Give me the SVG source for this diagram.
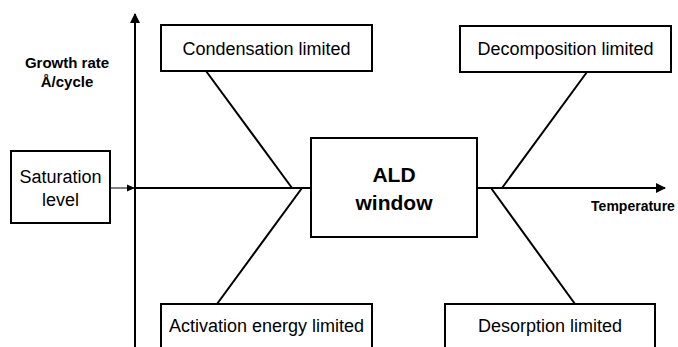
<svg xmlns="http://www.w3.org/2000/svg" width="678" height="347" viewBox="0 0 678 347">
<style>
.box{fill:#fff;stroke:#000;stroke-width:2}
.t{font-family:"Liberation Sans",Arial,sans-serif;font-size:18px;fill:#000;text-anchor:middle}
.b{font-family:"Liberation Sans",Arial,sans-serif;font-weight:bold;fill:#000;text-anchor:middle}
.ln{stroke:#000;stroke-width:2;fill:none}
</style>
<defs>
<marker id="ah" markerWidth="10" markerHeight="10" refX="9" refY="5" orient="auto" markerUnits="userSpaceOnUse">
<path d="M0,0 L10,5 L0,10 Z" fill="#000"/>
</marker>
<marker id="as" markerWidth="8" markerHeight="8" refX="8" refY="4" orient="auto" markerUnits="userSpaceOnUse">
<path d="M0,0.5 L8,4 L0,7.5 Z" fill="#000"/>
</marker>
</defs>
<rect width="678" height="347" fill="#fff"/>
<g id="connectors">
<line class="ln" x1="135" y1="347" x2="135" y2="14" marker-end="url(#ah)"/>
<line class="ln" x1="135" y1="188" x2="665" y2="188" marker-end="url(#ah)"/>
<line x1="110" y1="188" x2="135" y2="188" stroke="#000" stroke-width="1" marker-end="url(#as)"/>
<line class="ln" x1="206" y1="71" x2="292" y2="188"/>
<line class="ln" x1="302" y1="188" x2="217" y2="304"/>
<line class="ln" x1="587" y1="72" x2="502" y2="188"/>
<line class="ln" x1="491" y1="188" x2="575" y2="304"/>
</g>
<g id="saturation">
<rect class="box" x="11" y="151" width="99" height="72"/>
<text class="t" x="60.5" y="183">Saturation</text>
<text class="t" x="60.5" y="206">level</text>
</g>
<g id="condensation">
<rect class="box" x="161" y="25" width="211" height="46"/>
<text class="t" x="266.5" y="55">Condensation limited</text>
</g>
<g id="decomposition">
<rect class="box" x="460" y="26" width="211" height="46"/>
<text class="t" x="565.5" y="55">Decomposition limited</text>
</g>
<g id="ald">
<rect class="box" x="311" y="138" width="166" height="99"/>
<text class="b" x="394" y="182" font-size="21">ALD</text>
<text class="b" x="394" y="210" font-size="21">window</text>
</g>
<g id="activation">
<rect class="box" x="161" y="304" width="211" height="50"/>
<text class="t" x="266.5" y="332">Activation energy limited</text>
</g>
<g id="desorption">
<rect class="box" x="445" y="304" width="210" height="50"/>
<text class="t" x="550" y="332">Desorption limited</text>
</g>
<g id="labels">
<text class="b" x="67" y="68" font-size="15">Growth rate</text>
<text class="b" x="67" y="87" font-size="15">Å/cycle</text>
<text class="b" x="633" y="211" font-size="14">Temperature</text>
</g>
</svg>
